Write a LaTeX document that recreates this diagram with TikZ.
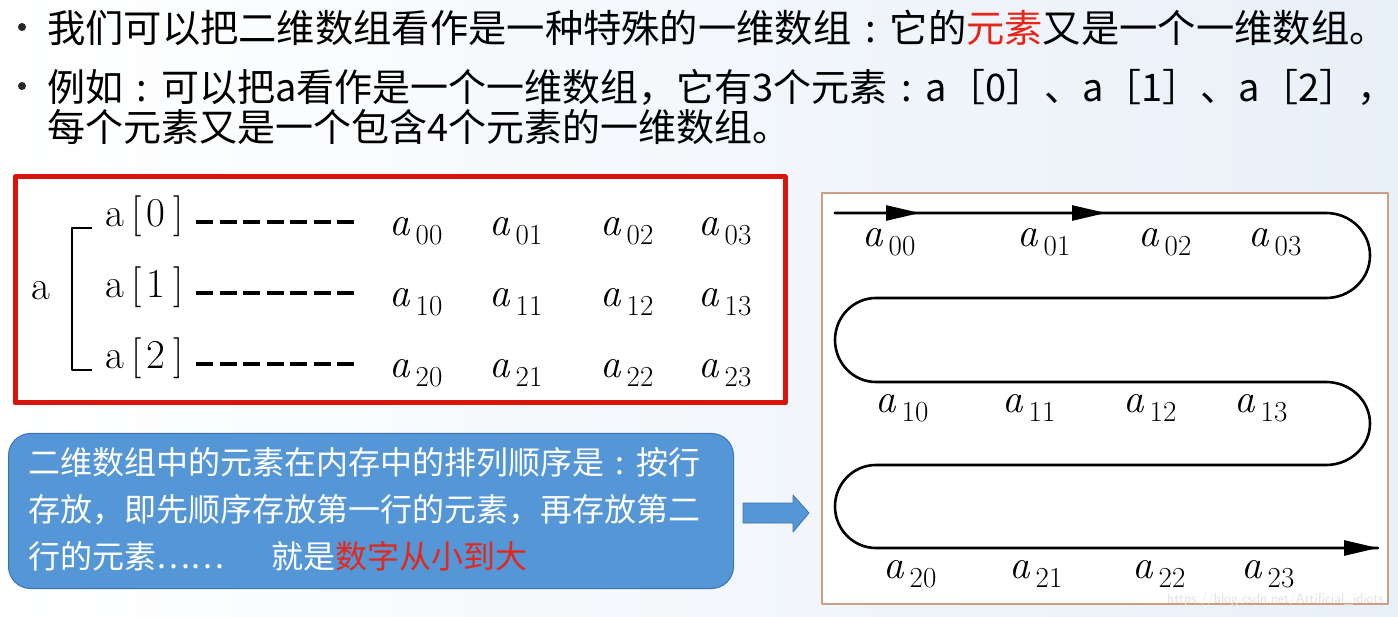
\documentclass[tikz,border=0pt]{standalone}
\usepackage{fontspec}
\usepackage{xcolor}
\usepackage{tikz}
\usetikzlibrary{arrows.meta,positioning}
\newfontfamily\cjk{Noto Sans CJK SC}
\newcommand{\ccolon}{\makebox[1em][c]{:}}
\newcommand{\aij}[1]{\textit{a}\kern5pt\raisebox{-9pt}{\fontsize{29}{30}\selectfont #1}}
\definecolor{boxred}{rgb}{0.85,0.08,0.05}
\definecolor{keyred}{rgb}{0.90,0.15,0.10}
\definecolor{noteblue}{rgb}{0.33,0.59,0.84}
\definecolor{noteedge}{rgb}{0.24,0.45,0.70}
\definecolor{framebrown}{rgb}{0.80,0.62,0.52}
\definecolor{slidebg}{rgb}{0.91,0.94,0.97}

\begin{document}
\begin{tikzpicture}[x=1pt,y=-1pt,line cap=round,line join=round,
  head/.style={anchor=west,inner sep=0pt,font=\cjk\fontsize{38}{44}\selectfont},
  bullet/.style={circle,fill=black!85,inner sep=0pt,minimum size=8pt},
  elt/.style={anchor=base,inner sep=1pt,font=\fontsize{41}{46}\selectfont},
  rowlbl/.style={anchor=base,inner sep=1pt,font=\fontsize{41}{46}\selectfont},
  dashrow/.style={line width=3.5pt,line cap=butt,dash pattern=on 17pt off 6.5pt},
  snake/.style={line width=2.6pt},
  tip/.style={-{Triangle[length=34pt,width=15pt]}}]
\useasboundingbox (0,0) rectangle (1398,617);
\shade[left color=white,right color=slidebg] (0,0) rectangle (1398,617);
% header
\node[bullet] (b1) at (22,27) {};
\node[head,font=\cjk\fontsize{38.3}{44}\selectfont] (l1) at (47,28) {我们可以把二维数组看作是一种特殊的一维数组\ccolon 它的\textcolor{keyred}{元素}又是一个一维数组。};
\node[bullet] (b2) at (22,86) {};
\node[head] (l2) at (47,87) {例如\ccolon 可以把a看作是一个一维数组，它有3个元素\ccolon a［0］、a［1］、a［2］，};
\node[head] (l3) at (47,127) {每个元素又是一个包含4个元素的一维数组。};
% left box
\draw[boxred,line width=5pt,fill=white] (15,177) rectangle (785,403);
\node[rowlbl] (a) at (41,300) {a};
\draw[line width=2.2pt,line cap=butt] (92,228) -- (72,228) -- (72,370) -- (92,370);
\foreach \r/\y in {0/227,1/298,2/369}{
  \node[rowlbl] (row\r) at (145,\y) {a\kern7pt[\kern5pt\r\kern8pt]};
  \foreach \c/\x in {0/416,1/516,2/627,3/725}
    \node[elt] (e\r\c) at (\x,\y+9) {\aij{\r\c}};
  \draw[dashrow,shorten >=30pt] ([xshift=11pt,yshift=5pt]row\r.base east)
    -- ([yshift=5pt]row\r.base east -| e\r0.west);
}
% note
\node[draw=noteedge,fill=noteblue,rounded corners=22pt,line width=1pt,
  minimum width=725pt,minimum height=155pt,anchor=north west] (note) at (8,433) {};
\node[anchor=north west,inner sep=0pt,align=left,text=white,
  font=\cjk\fontsize{32}{47}\selectfont] (notetxt) at (28,447)
  {二维数组中的元素在内存中的排列顺序是\ccolon 按行\\
   存放，即先顺序存放第一行的元素，再存放第二\\
   行的元素……\hspace{48pt}就是\textcolor{keyred}{数字从小到大}};
\coordinate (go) at (743,513);
\draw[noteedge,fill=noteblue,line width=0.8pt] (go) ++(0,-10) -- ++(50,0) -- ++(0,-8)
  -- (809,513) -- (793,532) -- ++(0,-9) -- ++(-50,0) -- cycle;
% memory order
\draw[framebrown,line width=1.4pt,fill=white] (822,193) rectangle (1388,604);
\coordinate (start) at (835,213);
\coordinate (stop) at (1378,548);
\draw[snake] (start) -- (1326,213) arc[start angle=-90,end angle=90,x radius=44,y radius=42.5]
  -- (876,298) arc[start angle=270,end angle=90,x radius=41,y radius=42]
  -- (1326,382) arc[start angle=-90,end angle=90,x radius=44,y radius=41.5]
  -- (876,465) arc[start angle=270,end angle=90,x radius=41,y radius=41.5] -- (stop);
\draw[snake,tip] (start) -- (920,213);
\draw[snake,tip] (start) -- (1106,213);
\draw[snake,tip] (1300,548) -- (stop);
\foreach \c/\x in {0/889,1/1044,2/1165,3/1275}
  \node[elt] (m0\c) at (\x,247) {\aij{0\c}};
\foreach \c/\x in {0/902,1/1029,2/1150,3/1261}
  \node[elt] (m1\c) at (\x,413) {\aij{1\c}};
\foreach \c/\x in {0/910,1/1036,2/1159,3/1268}
  \node[elt] (m2\c) at (\x,578) {\aij{2\c}};
\node[text=black!12,inner sep=0pt,font=\sffamily\fontsize{14}{15}\selectfont,anchor=east] (mark) at (1384,600) {https://blog.csdn.net/Artificial\_idiots};
\end{tikzpicture}
\end{document}
